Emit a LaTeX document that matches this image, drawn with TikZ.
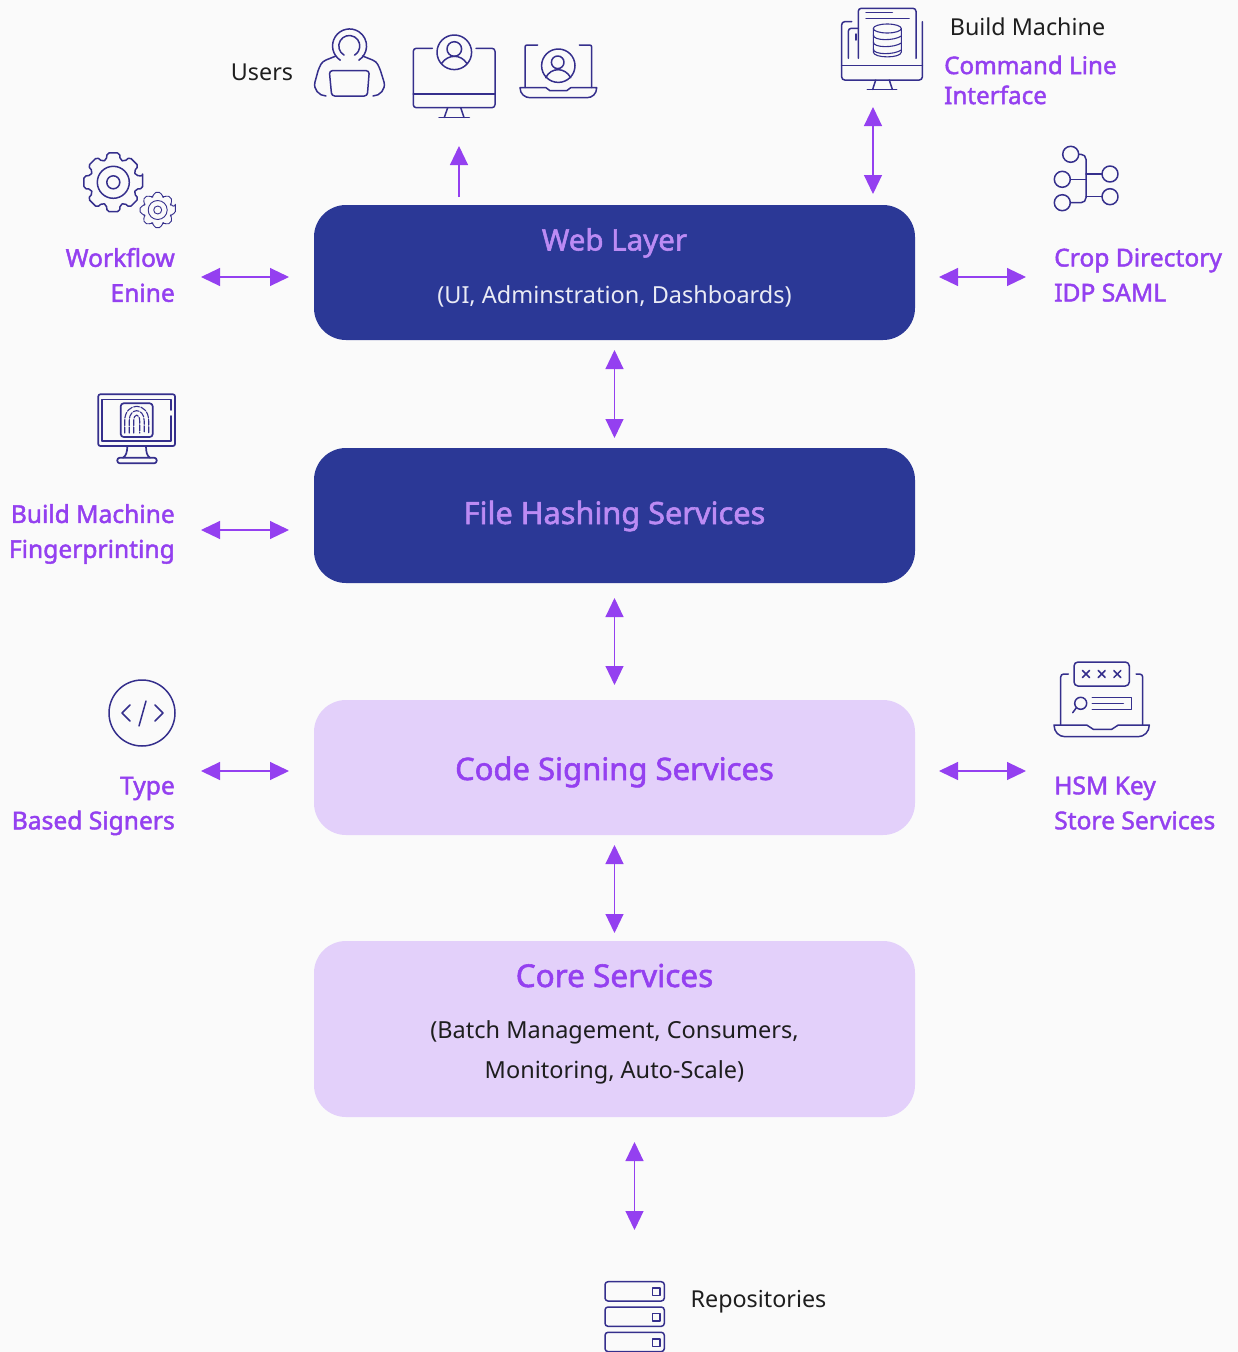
\documentclass[tikz,border=0pt]{standalone}
\usepackage{fontspec}
\setmainfont{Noto Sans}[BoldFont={Noto Sans},BoldFeatures={FakeBold=1.8}]
\usetikzlibrary{arrows.meta}

\definecolor{pageGray}{HTML}{FAFAFA}
\definecolor{layerBlue}{HTML}{2B3896}
\definecolor{layerLilac}{HTML}{E3D0FA}
\definecolor{accentPurple}{HTML}{9440F0}
\definecolor{softPurple}{HTML}{BC8BF4}
\definecolor{iconBlue}{HTML}{352F8C}
\definecolor{plainInk}{HTML}{1E1E1E}

\tikzset{
  layerBox/.style={inner sep=0pt, outer sep=0pt, minimum width=601pt, rounded corners=32pt},
  blueBox/.style={layerBox, fill=layerBlue},
  lilacBox/.style={layerBox, fill=layerLilac},
  titleText/.style={inner sep=0pt, anchor=base, font=\fontsize{#1}{34}\selectfont\bfseries},
  noteText/.style={inner sep=0pt, align=center, font=\fontsize{23.5}{40}\selectfont},
  sideText/.style={inner sep=0pt, text=accentPurple, font=\fontsize{24.6}{35}\selectfont\bfseries},
  plainText/.style={inner sep=0pt, text=plainInk, font=\fontsize{23.3}{30}\selectfont},
  iconLine/.style={draw=iconBlue, line width=1.5pt, line cap=round, line join=round},
  oneWay/.style={draw=accentPurple, line width=1.1pt, -{Triangle[length=19pt,width=18pt]}},
  twoWay/.style={draw=accentPurple, line width=1.1pt, {Triangle[length=19pt,width=18pt]}-{Triangle[length=19pt,width=18pt]}}
}

\begin{document}
\begin{tikzpicture}[x=1pt,y=-1pt]
  % Page
  \useasboundingbox (0,0) rectangle (1238,1352);
  \fill[pageGray] (0,0) rectangle (1238,1352);

  % Layers
  \node[blueBox, minimum height=135pt] (web) at (614.5,272.5) {};
  \node[blueBox, minimum height=135pt] (hash) at (614.5,515.5) {};
  \node[lilacBox, minimum height=135pt] (code) at (614.5,767.5) {};
  \node[lilacBox, minimum height=176pt] (core) at (614.5,1029) {};

  % Layer texts
  \node[titleText=29.5, text=softPurple] (webTitle) at (614.5,250.5) {Web Layer};
  \node[noteText, text=white!90!layerBlue] (webNote) at (614.5,296) {(UI, Adminstration, Dashboards)};
  \node[titleText=30.7, text=softPurple] (hashTitle) at (614.5,524) {File Hashing Services};
  \node[titleText=31, text=accentPurple] (codeTitle) at (614.5,780) {Code Signing Services};
  \node[titleText=31.5, text=accentPurple] (coreTitle) at (614.5,987) {Core Services};
  \node[noteText, text=plainInk] (coreNote) at (614.5,1052.5) {(Batch Management, Consumers,\\Monitoring, Auto-Scale)};

  % Side labels
  \node[sideText, anchor=east, align=right] (workflow) at (175,275) {Workflow\\Enine};
  \node[sideText, anchor=east, align=right] (fingerprint) at (175,534) {Build Machine\\Fingerprinting};
  \node[sideText, anchor=east, align=right] (signers) at (175,806) {Type\\Based Signers};
  \node[sideText, anchor=west, align=left] (crop) at (1054,275) {Crop Directory\\IDP SAML};
  \node[sideText, anchor=west, align=left] (hsm) at (1054,803) {HSM Key\\Store Services};
  \node[sideText, anchor=west, align=left, font=\fontsize{24.2}{30}\selectfont\bfseries] (cli) at (944,80) {Command Line\\Interface};
  \node[plainText] (users) at (262,72) {Users};
  \node[plainText] (buildMachine) at (1027.5,27) {Build Machine};
  \node[plainText] (repos) at (758.5,1302) {Repositories};

  % Rows and free ends of the arrows
  \coordinate (rowWeb) at (0,277);
  \coordinate (rowHash) at (0,530);
  \coordinate (rowCode) at (0,771);
  \coordinate (usersEnd) at (459,146);
  \coordinate (cliEnd) at (873,107);
  \coordinate (reposEnd) at (634.5,1230);

  % Arrows between the layers
  \draw[twoWay, shorten <=10pt, shorten >=10pt] (web) -- (hash);
  \draw[twoWay, shorten <=15pt, shorten >=15pt] (hash) -- (code);
  \draw[twoWay, shorten <=10pt, shorten >=8pt] (code) -- (core);
  \draw[twoWay, shorten <=25pt] (core.south -| reposEnd) -- (reposEnd);

  % Arrows to the top
  \draw[oneWay, shorten <=8pt] (web.north -| usersEnd) -- (usersEnd);
  \draw[twoWay, shorten <=11pt] (web.north -| cliEnd) -- (cliEnd);

  % Arrows to the sides
  \draw[twoWay, shorten <=26pt, shorten >=25pt] (workflow.east |- rowWeb) -- (web.west |- rowWeb);
  \draw[twoWay, shorten <=26pt, shorten >=25pt] (fingerprint.east |- rowHash) -- (hash.west |- rowHash);
  \draw[twoWay, shorten <=26pt, shorten >=25pt] (signers.east |- rowCode) -- (code.west |- rowCode);
  \draw[twoWay, shorten <=24pt, shorten >=28pt] (web.east |- rowWeb) -- (crop.west |- rowWeb);
  \draw[twoWay, shorten <=24pt, shorten >=28pt] (code.east |- rowCode) -- (hsm.west |- rowCode);

  % Person at a laptop
  \begin{scope}[iconLine]
    \draw (340.3,60.2) arc (123:417:17);
    \draw (349.3,46) ++(120:10.5) arc (120:420:10.5);
    \draw (336,56) -- (326,60) .. controls (321,62) and (320,66) .. (318,71) -- (315,82) .. controls (313,89) and (319,96) .. (326,96);
    \draw (362.6,56) -- (372.6,60) .. controls (377.6,62) and (378.6,66) .. (380.6,71) -- (384,82) .. controls (386,89) and (380,96) .. (373,96);
    \draw[rounded corners=3pt] (329.3,70.7) -- (369.3,70.7) -- (367.3,96) -- (331.7,96) -- cycle;
  \end{scope}

  % Desktop with user
  \begin{scope}[iconLine]
    \draw[rounded corners=3pt] (432.3,48.3) -- (413.3,48.3) -- (413.3,107.7) -- (495,107.7) -- (495,48.3) -- (476,48.3);
    \draw (413.3,94) -- (495,94);
    \draw (447.7,107.7) -- (444.3,117.5);
    \draw (460.7,107.7) -- (464,117.5);
    \draw (439,117.7) -- (469.3,117.7);
    \draw (454.3,52.3) circle (17.3);
    \draw (454.3,49) circle (7.3);
    \draw (441.7,63.3) .. controls (448,54) and (461,54) .. (466.7,63.3);
  \end{scope}

  % Laptop with user
  \begin{scope}[iconLine]
    \draw[rounded corners=2pt] (537.7,45) -- (525,45) -- (525,87.5);
    \draw[rounded corners=2pt] (579.3,45) -- (591.7,45) -- (591.7,87.5);
    \draw (520,87.7) -- (546,87.7) -- (550,90.7) -- (566.7,90.7) -- (570.7,87.7) -- (596.7,87.7) .. controls (596.7,94) and (592,97.7) .. (587,97.7) -- (530,97.7) .. controls (525,97.7) and (520,94) .. (520,87.7) -- cycle;
    \draw (558.3,65.7) circle (16.7);
    \draw (557.7,62.3) circle (6.3);
    \draw (545.7,77.7) .. controls (551,67) and (565,67) .. (570.7,77.7);
  \end{scope}

  % Desktop with database
  \begin{scope}[iconLine]
    \draw[rounded corners=3pt] (851.7,21.7) -- (841.7,21.7) -- (841.7,80) -- (922.3,80) -- (922.3,21.7);
    \draw (841.7,65.7) -- (922.3,65.7);
    \draw[rounded corners=3pt] (858.3,58.3) -- (858.3,8.3) -- (916,8.3) -- (916,58.3);
    \draw[rounded corners=3pt] (858.3,28.3) -- (848.3,28.3) -- (848.3,58.3);
    \draw (856,34) -- (856,40);
    \draw (866,12.7) -- (892.3,12.7);
    \draw (866,18.3) -- (909,18.3);
    \draw (875.7,80) -- (872.7,89.3);
    \draw (889.3,80) -- (892.3,89.3);
    \draw (867.3,89.3) -- (896.7,89.3);
    \begin{scope}[line width=1.1pt]
      \draw (887.3,28.5) ellipse (14 and 4.5);
      \draw (873.3,28.5) -- (873.3,52) .. controls (873.3,58.5) and (901.3,58.5) .. (901.3,52) -- (901.3,28.5);
      \foreach \layerY in {35,42,49}
        \draw (873.3,\layerY) .. controls (873.3,\layerY+6) and (894,\layerY+6) .. (901.3,\layerY+1);
    \end{scope}
  \end{scope}

  % Directory tree
  \begin{scope}[iconLine]
    \foreach \leafX/\leafY in {1070.7/154.3,1062.3/179.3,1062.3/202.7,1110/174,1110/196.7}
      \draw (\leafX,\leafY) circle (8);
    \draw[rounded corners=5pt] (1078.7,154.3) -- (1086,154.3) -- (1086,202.7) -- (1070.3,202.7);
    \draw (1070.3,179.3) -- (1086,179.3);
    \draw (1086,174) -- (1102,174);
    \draw (1086,196.7) -- (1102,196.7);
  \end{scope}

  % Gears
  \begin{scope}[iconLine, line width=1.4pt]
    \foreach \gearX/\gearY/\gearOut/\gearIn/\ringA/\ringB/\gearLine in {113.3/182.3/30/23.5/16/6.5/1.5,157.7/210/18/14/9.5/4/0.9}
    {
      \draw[rounded corners=2pt, line width=\gearLine pt] ([shift={(\gearX,\gearY)}]-12:\gearOut)
        \foreach \toothAngle in {0,45,90,135,180,225,270,315}
        { -- ([shift={(\gearX,\gearY)}]\toothAngle-12:\gearOut) -- ([shift={(\gearX,\gearY)}]\toothAngle+12:\gearOut) -- ([shift={(\gearX,\gearY)}]\toothAngle+17:\gearIn) -- ([shift={(\gearX,\gearY)}]\toothAngle+28:\gearIn) } -- cycle;
      \draw[line width=\gearLine pt] (\gearX,\gearY) circle (\ringA);
      \draw[line width=\gearLine pt] (\gearX,\gearY) circle (\ringB);
    }
  \end{scope}

  % Monitor with fingerprint
  \begin{scope}[iconLine, line width=1.7pt]
    \draw[rounded corners=2pt] (98.3,394.3) rectangle (175,446);
    \draw (102.3,441) -- (102.3,399.5) -- (171,399.5) -- (171,410);
    \draw (171,416) -- (171,441) -- (102.3,441);
    \draw[rounded corners=3pt] (120.7,403.3) rectangle (152.7,437);
    \foreach \archR in {3,7.5,12}
      \draw[line width=1.1pt, dash pattern=on 6pt off 1.5pt] (136.7-\archR,433) -- (136.7-\archR,421) .. controls (136.7-\archR,417-1.3*\archR) and (136.7+\archR,417-1.3*\archR) .. (136.7+\archR,421) -- (136.7+\archR,433);
    \draw (127.3,446) .. controls (127.3,452) and (126,456) .. (123,457.7);
    \draw (146,446) .. controls (146,452) and (147,456) .. (150,457.7);
    \draw[rounded corners=2.5pt] (117.3,457.7) rectangle (156.7,463.3);
  \end{scope}

  % Code symbol
  \begin{scope}[iconLine]
    \draw (142,713) circle (33);
    \draw (130,705) -- (122,713) -- (130,721);
    \draw (146,701) -- (139,726);
    \draw (155,705) -- (163,713) -- (155,721);
  \end{scope}

  % Laptop with password
  \begin{scope}[iconLine]
    \draw[rounded corners=3pt] (1068.3,674) -- (1060.7,674) -- (1060.7,725);
    \draw[rounded corners=3pt] (1136,674) -- (1142.7,674) -- (1142.7,725);
    \draw (1054,725) -- (1086.7,725) -- (1093.3,729.3) -- (1111.7,729.3) -- (1118.3,725) -- (1149.3,725) .. controls (1149.3,732) and (1144,736.7) .. (1138,736.7) -- (1065,736.7) .. controls (1059,736.7) and (1054,732) .. (1054,725) -- cycle;
    \draw[rounded corners=4pt] (1074,662) rectangle (1129.3,686);
    \foreach \crossX in {1086,1101.7,1117.3}
    {
      \draw (\crossX-3.5,670.5) -- (\crossX+3.5,677.5);
      \draw (\crossX-3.5,677.5) -- (\crossX+3.5,670.5);
    }
    \draw (1080.7,703.3) circle (6);
    \draw (1076.5,707.5) -- (1072.7,712.7);
    \draw (1092.3,697.3) -- (1131.7,697.3) -- (1131.7,709.3) -- (1092.3,709.3);
    \draw (1092.3,703.3) -- (1123.3,703.3);
  \end{scope}

  % Server stack
  \begin{scope}[iconLine]
    \foreach \rowTop in {1281.7,1307,1332.3}
    {
      \draw[rounded corners=3pt] (605,\rowTop) rectangle (664.3,\rowTop+19.3);
      \draw (652.5,\rowTop+6.5) rectangle (660,\rowTop+14);
    }
  \end{scope}
\end{tikzpicture}
\end{document}
